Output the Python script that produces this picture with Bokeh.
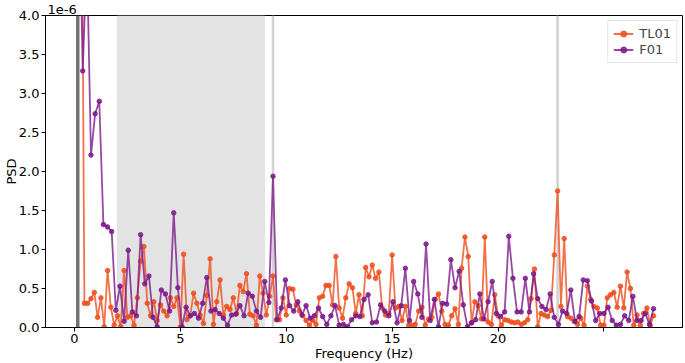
import numpy as np
from bokeh.plotting import figure
from bokeh.models import (Range1d, FixedTicker, BoxAnnotation, Span,
                          Legend, LegendItem, PrintfTickFormatter)
from bokeh.embed import file_html
from bokeh.resources import INLINE

# ---------------- data (PSD values in units of 1e-6) ----------------
series_names = ["TL01", "F01"]
freq_step_tl01 = 0.15625      # Hz per bin
freq_step_f01 = 0.1953125     # Hz per bin

psd_tl01 = [
    20.0, 12.0, 7.5, 0.31, 0.31, 0.37, 0.45, 0.13, 0.38, 0.01,
    0.73, 0.26, 0.03, 0.15, 0.01, 0.73, 0.13, 0.15, 0.03, 0.38,
    0.85, 1.04, 0.31, 0.15, 0.33, 0.09, 0.29, 0.21, 0.15, 0.38,
    0.27, 0.38, 0.01, 0.94, 0.10, 0.15, 0.44, 0.31, 0.16, 0.05,
    0.41, 0.88, 0.04, 0.33, 0.61, 0.16, 0.27, 0.23, 0.38, 0.18,
    0.54, 0.46, 0.69, 0.17, 0.15, 0.03, 0.66, 0.44, 0.16, 0.40,
    0.66, 0.10, 0.10, 0.38, 0.16, 0.50, 0.49, 0.29, 0.21, 0.15,
    0.09, 0.03, 0.09, 0.04, 0.38, 0.40, 0.54, 0.54, 0.29, 0.91,
    0.25, 0.12, 0.38, 0.56, 0.51, 0.18, 0.42, 0.15, 0.77, 0.65,
    0.80, 0.63, 0.71, 0.25, 0.16, 0.18, 0.93, 0.25, 0.27, 0.09,
    0.27, 0.03, 0.03, 0.04, 0.21, 0.26, 0.03, 0.11, 0.13, 0.36,
    0.43, 0.21, 0.04, 0.03, 0.15, 0.24, 0.04, 0.76, 1.16, 0.91,
    0.06, 0.33, 0.28, 0.11, 1.16, 0.07, 0.04, 0.42, 0.15, 0.03,
    0.10, 0.09, 0.07, 0.06, 0.07, 0.04, 0.06, 0.10, 0.37, 0.75,
    0.01, 0.18, 0.16, 0.14, 0.22, 0.93, 1.75, 0.27, 1.14, 0.14,
    0.12, 0.08, 0.04, 0.12, 0.03, 0.53, 0.36, 0.27, 0.25, 0.03,
    0.03, 0.38, 0.42, 0.45, 0.26, 0.53, 0.25, 0.71, 0.50, 0.03,
    0.16, 0.03, 0.18, 0.25, 0.03, 0.15,
]

psd_f01 = [
    9.0, 6.0, 3.29, 4.8, 2.21, 2.74, 2.90, 1.32, 1.29, 1.23,
    0.22, 0.53, 0.08, 0.99, 0.20, 0.15, 1.19, 0.56, 0.66, 0.13,
    0.01, 0.48, 0.43, 0.21, 1.47, 0.51, 0.01, 0.26, 0.15, 0.18,
    0.12, 0.31, 0.64, 0.21, 0.23, 0.18, 0.12, 0.03, 0.16, 0.17,
    0.28, 0.15, 0.44, 0.40, 0.21, 0.13, 0.59, 0.32, 1.94, 0.10,
    0.25, 0.61, 0.28, 0.21, 0.33, 0.16, 0.28, 0.12, 0.15, 0.25,
    0.14, 0.04, 0.15, 0.28, 0.03, 0.04, 0.01, 0.10, 0.15, 0.14,
    0.36, 0.42, 0.06, 0.07, 0.29, 0.21, 0.15, 0.33, 0.06, 0.28,
    0.76, 0.09, 0.59, 0.43, 0.13, 1.07, 0.09, 0.36, 0.01, 0.31,
    0.30, 0.87, 0.51, 0.72, 0.29, 0.01, 0.06, 0.10, 0.43, 0.11,
    0.33, 0.59, 0.18, 0.14, 0.20, 1.17, 0.63, 0.20, 0.20, 0.63,
    0.20, 0.69, 0.37, 0.27, 0.23, 0.43, 0.13, 0.04, 0.21, 0.18,
    0.48, 0.08, 0.14, 0.61, 0.60, 0.34, 0.09, 0.18, 0.18, 0.26,
    0.09, 0.03, 0.04, 0.15, 0.09, 0.40, 0.09, 0.09, 0.18, 0.04,
    0.24,
]

x_ticks = [0, 5, 10, 15, 20, 25]
x_tick_labels = ["0", "5", "10", "15", "20", ""]
y_ticks = [0.0, 0.5, 1.0, 1.5, 2.0, 2.5, 3.0, 3.5, 4.0]
y_offset_text = "1e-6"
band_lo, band_hi = 2.0, 9.0
peak_lines_light = [9.375, 22.8125]
peak_line_dark = 0.15625

freq_tl01 = np.arange(len(psd_tl01)) * freq_step_tl01
freq_f01 = np.arange(len(psd_f01)) * freq_step_f01

FONT = "DejaVu Sans"
FS = "13px"
ORANGE = "#f04e1c"
PURPLE = "#7d1a8c"

p = figure(width=685, height=363, output_backend="svg", toolbar_location=None,
           x_range=Range1d(-1.367, 28.71), y_range=Range1d(0, 4.0),
           min_border_left=40, min_border_right=3, min_border_top=10,
           min_border_bottom=30)
p.background_fill_color = "white"
p.border_fill_color = "white"
p.outline_line_color = "black"
p.outline_line_width = 1
p.outline_line_alpha = 1
p.xgrid.visible = False
p.ygrid.visible = False

# offset text above the axis, like matplotlib's "1e-6"
p.title.text = y_offset_text
p.title.align = "left"
p.title.text_font = FONT
p.title.text_font_size = FS
p.title.text_font_style = "normal"
p.title.text_color = "black"
p.title.standoff = 4
p.title.offset = 2

# shaded band and reference lines
p.add_layout(BoxAnnotation(left=band_lo, right=band_hi, fill_color="#e3e3e3",
                           fill_alpha=1, line_alpha=0, level="underlay"))
for f in peak_lines_light:
    p.add_layout(Span(location=f, dimension="height", line_color="#d2d2d2",
                      line_width=2.5, level="underlay"))
p.add_layout(Span(location=peak_line_dark, dimension="height", line_color="#727272",
                  line_width=3.5, level="underlay"))

l1 = p.line(freq_tl01, psd_tl01, line_color=ORANGE, line_width=1.8, line_alpha=0.8)
s1 = p.scatter(freq_tl01, psd_tl01, size=4.5, fill_color=ORANGE, line_color=ORANGE,
               fill_alpha=0.85, line_alpha=0.85)
l2 = p.line(freq_f01, psd_f01, line_color=PURPLE, line_width=1.8, line_alpha=0.8)
s2 = p.scatter(freq_f01, psd_f01, size=4.5, fill_color=PURPLE, line_color=PURPLE,
               fill_alpha=0.85, line_alpha=0.85)

legend = Legend(items=[LegendItem(label=series_names[0], renderers=[l1, s1]),
                       LegendItem(label=series_names[1], renderers=[l2, s2])],
                location="top_right", margin=5, padding=5, spacing=1,
                glyph_width=20, glyph_height=15, label_standoff=6,
                label_text_font=FONT, label_text_font_size=FS,
                border_line_color="#cccccc", border_line_width=1,
                background_fill_alpha=0.8)
p.add_layout(legend)

# axes
p.xaxis.ticker = FixedTicker(ticks=x_ticks)
p.xaxis.major_label_overrides = {t: l for t, l in zip(x_ticks, x_tick_labels)}
p.yaxis.ticker = FixedTicker(ticks=y_ticks)
p.yaxis.formatter = PrintfTickFormatter(format="%.1f")
p.xaxis.axis_label = "Frequency (Hz)"
p.yaxis.axis_label = "PSD"
for ax in (p.xaxis, p.yaxis):
    ax.major_tick_out = 4
    ax.major_tick_in = 0
    ax.minor_tick_out = 0
    ax.minor_tick_in = 0
    ax.major_tick_line_color = "black"
    ax.axis_line_color = "black"
    ax.major_label_text_font = FONT
    ax.major_label_text_font_size = FS
    ax.major_label_text_color = "black"
    ax.axis_label_text_font = FONT
    ax.axis_label_text_font_size = FS
    ax.axis_label_text_font_style = "normal"
    ax.axis_label_text_color = "black"
p.xaxis.major_label_standoff = 2
p.xaxis.axis_label_standoff = 0
p.yaxis.major_label_standoff = 2
p.yaxis.axis_label_standoff = -3

open("out.html", "w").write(file_html(p, INLINE))
